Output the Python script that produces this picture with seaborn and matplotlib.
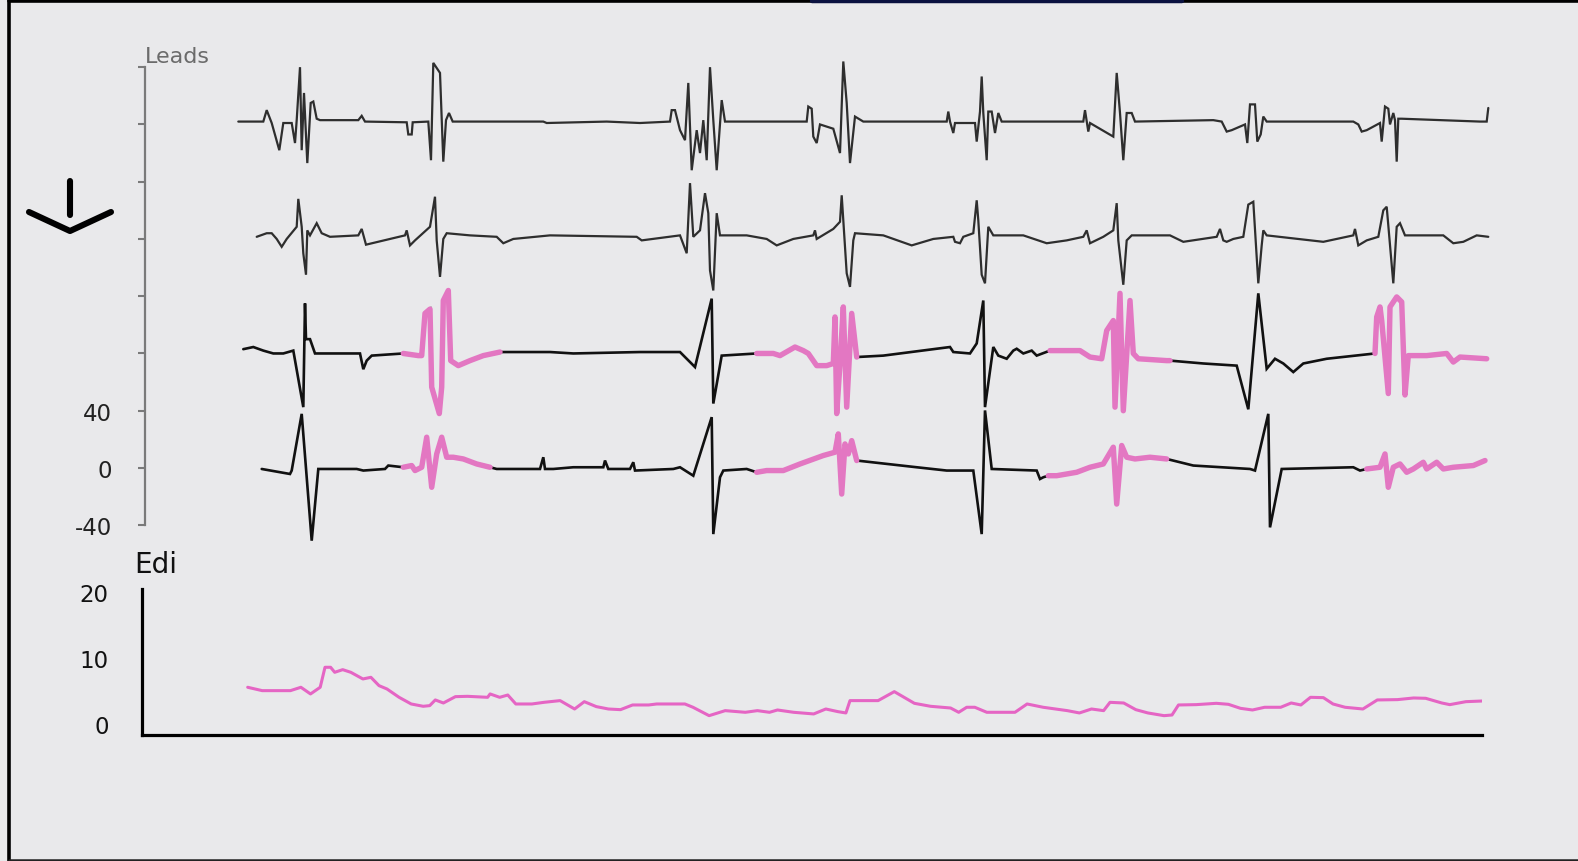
import numpy as np
import pandas as pd
import matplotlib
matplotlib.use("Agg")
import matplotlib.pyplot as plt
import seaborn as sns
from matplotlib.lines import Line2D

# ---------------- data (time index, amplitude) ----------------
LEAD1 = [(1.3, 242), (26.3, 242), (29.7, 250), (34.7, 241), (42.3, 222), (46.3, 241), (54.7, 241), (58, 227),
         (59.7, 243), (63, 280), (64.7, 222), (67, 262), (70.3, 213), (73.7, 255), (76.3, 256), (79.7, 244),
         (83, 243), (121.3, 243), (124.7, 246), (128, 242), (169.7, 241.5), (171.3, 233), (174.7, 233),
         (175.7, 241.5), (191.3, 242), (194, 215), (196.3, 283), (203, 276), (206.3, 214), (209, 243),
         (212, 248), (215.7, 242), (306.3, 242), (309.7, 241), (369.7, 242), (403, 241), (433, 242),
         (434.7, 250), (438, 250), (443, 236), (448, 229), (451.3, 269), (454.7, 208), (459.7, 236),
         (463, 220), (466.3, 243), (469.7, 215), (473, 280), (476.3, 243), (479.7, 208), (484.7, 257),
         (488, 242), (569.7, 242), (571.3, 252.5), (574.7, 251), (576.3, 231.5), (579.7, 227), (583, 240),
         (596.3, 237), (603, 220), (606.3, 284), (609.7, 255), (613, 213), (618, 245.5), (626.3, 242),
         (709.7, 242), (711.3, 249), (713, 242), (716.3, 234), (718, 241), (738, 241), (739.7, 228),
         (743, 249), (744.7, 273.5), (746.3, 248), (749.7, 215), (751.3, 249), (754.7, 249), (758, 234),
         (761.3, 248), (764.7, 242), (846.3, 242), (848, 250), (851.3, 235), (853, 241), (876.3, 231.5),
         (879.7, 276), (883, 248), (886.3, 215), (889.7, 248), (894.7, 248), (898, 242), (976.3, 243),
         (984.7, 242), (989.7, 235), (994.7, 236), (1008, 240), (1010.3, 227), (1013, 254), (1018, 254),
         (1020.3, 228), (1023.7, 233), (1026.3, 245.5), (1029.7, 242), (1116.3, 242), (1121.3, 240),
         (1124.7, 235), (1129.7, 236), (1143, 241), (1144.7, 228), (1148, 252.5), (1151.3, 251),
         (1153, 240), (1156.3, 248), (1158, 243), (1159.7, 214), (1161.3, 244), (1164.7, 244),
         (1243, 242), (1249.7, 242), (1251.3, 251.5)]

LEAD2 = [(19.7, 161.5), (29.7, 164), (34.7, 164), (39.7, 160), (44.7, 154.5), (49.7, 160), (59.7, 168.5),
         (61.3, 188), (64.7, 168.5), (66.3, 150), (69, 135), (70.3, 166), (73, 162.5), (79.7, 171),
         (84.7, 164), (93, 161.5), (121.3, 162.5), (124.7, 167), (129, 156), (168, 162.5), (169.7, 166),
         (173, 155.5), (178, 159), (193, 168.5), (198, 189.5), (199.7, 159), (203, 133.5), (206.3, 160),
         (209.7, 164), (233, 162.5), (259.7, 161.5), (266.3, 157), (276.3, 160), (313, 162.5),
         (399.7, 161.5), (404.7, 159), (443, 162.5), (449.7, 150), (453, 199), (456.3, 161.5), (463, 166),
         (468, 192), (471.3, 178), (473, 138), (476.3, 124), (479.7, 178), (483, 162.5), (509.7, 162.5),
         (529.7, 160), (539.7, 155.5), (556.3, 160), (576.3, 162.5), (578, 166), (579.7, 160), (596.3, 167),
         (603, 172), (604.7, 190.5), (606.3, 173), (609.7, 136), (613, 126.5), (616.3, 159), (618, 164),
         (646.3, 162.5), (674.7, 155.5), (696.3, 160), (716.3, 161.5), (718, 158), (723, 157),
         (726.3, 161.5), (736.3, 164), (739.7, 187), (741.3, 173), (744.7, 135), (748, 129), (751.3, 168.5),
         (756.3, 162.5), (786.3, 162.5), (809.7, 157), (829.7, 159), (846.3, 161.5), (849.7, 166),
         (853, 157), (866.3, 161.5), (876.3, 166), (879.7, 185), (881.3, 159), (886.3, 128), (889.7, 159),
         (894.7, 162.5), (933, 162.5), (946.3, 158), (979.7, 161.5), (983, 167), (986.3, 159),
         (989.7, 158), (996.3, 160), (1006.3, 161.5), (1011.3, 184), (1016.3, 186), (1021.3, 129),
         (1024.7, 155.5), (1026.3, 166), (1029.7, 162.5), (1086.3, 158), (1116.3, 162.5), (1118, 167),
         (1121.3, 155.5), (1129.7, 159), (1141.3, 161.5), (1146.3, 180), (1149.7, 182.5), (1156.3, 129),
         (1159.7, 168.5), (1163, 171), (1168, 162.5), (1206.3, 162.5), (1216.3, 157), (1226.3, 158),
         (1239.7, 162.5), (1251.3, 161.5)]

LEAD3 = [(6.3, 83), (16.3, 84.5), (26.3, 82), (36.3, 80), (46.3, 80), (56.3, 82), (66.3, 42.5), (68, 115),
         (69, 90), (73, 90), (78, 80), (123, 80), (126.3, 69), (129.7, 75), (134.7, 78.5), (166.3, 80),
         (181.3, 78.5), (184.7, 78.5), (188, 108), (193, 111), (194.7, 56.5), (202.3, 38), (204.7, 56.5),
         (206.3, 117), (211.3, 124), (213.7, 75), (221.3, 71.5), (233, 75), (246.3, 78.5), (263, 81),
         (313, 81), (336.3, 80), (403, 81), (443, 81), (458, 70.5), (474.7, 118.3), (476.3, 45),
         (484.7, 78.5), (519.7, 80), (536.3, 80), (543, 78.5), (558, 84.5), (566.3, 82), (571.3, 80),
         (579.7, 71.5), (589.7, 71.5), (596.3, 73), (598, 105.5), (599.7, 38), (603, 73), (606.3, 112.5),
         (609.7, 42.5), (614.7, 108), (619.7, 77.5), (646.3, 78.5), (713, 84.5), (716.3, 81), (733, 80),
         (739.7, 87), (746.3, 117), (748, 42.5), (756.3, 84.5), (761.3, 78.5), (769.7, 76.3), (776.3, 82),
         (779.7, 83.3), (786.3, 80), (794.7, 82), (799.7, 78.5), (813, 82), (843, 82), (853, 77.5),
         (864.7, 76.3), (869.7, 96), (876.3, 103), (878, 42.5), (883, 122), (886.3, 40), (893, 117),
         (896.3, 80), (901.3, 76.3), (929.7, 75), (933, 75), (966.3, 73), (999.7, 71.5), (1011.3, 41),
         (1021.3, 122), (1029.7, 69.3), (1038, 76.3), (1046.3, 73), (1056.3, 67), (1066.3, 73),
         (1089.7, 76.3), (1138, 80), (1139.7, 105.5), (1143, 112.5), (1144.7, 103), (1151.3, 52),
         (1153, 112.5), (1159.7, 119.5), (1164.7, 116), (1168, 51), (1171.3, 78.5), (1189.7, 78.5),
         (1209.7, 80), (1216.3, 74), (1223, 77.5), (1249.7, 76.3)]

LEAD4 = [(24.7, -0.7), (53, -4.2), (54.7, -1.8), (64.7, 37.8), (74.7, -50.8), (81.3, -0.7), (119.7, -0.7),
         (126.3, -1.8), (148, -0.7), (151.3, 1.7), (166.3, 0.5), (174.7, 1.7), (178, -1.8), (184.7, 0.5),
         (189.7, 21.5), (194.7, -13.5), (199.7, 9.8), (204.7, 21.5), (209.7, 7.5), (216.3, 7.5),
         (226.3, 6.3), (239.7, 2.8), (253, 0.5), (259.7, -0.7), (303, -0.7), (306.3, 7.5), (308, -0.7),
         (316.3, -0.7), (336.3, 0.5), (366.3, 0.5), (368, 5.2), (371.3, -0.7), (393, -0.7), (396.3, 4),
         (398, -1.8), (436.3, -0.7), (443, 0.5), (456.3, -5.4), (474.7, 35.5), (476.3, -46.2),
         (483, -6.5), (486.3, -1.8), (509.7, -0.7), (519.7, -3), (529.7, -1.8), (546.3, -1.8), (563, 2.8),
         (586.3, 8.7), (598, 11), (601.3, 23.8), (604.7, -18.2), (608, 16.8), (611.3, 9.8), (614.7, 19.1),
         (619.7, 5.2), (679.7, 0.5), (709.7, -1.8), (736.3, -1.8), (744.7, -46.2), (748, 40.2),
         (754.7, -0.7), (799.7, -1.8), (803, -7.7), (806.3, -6.5), (811.3, -5.4), (819.7, -5.4),
         (839.7, -3), (853, 0.5), (866.3, 2.8), (876.3, 14.5), (879.7, -25.2), (884.7, 15.7), (889.7, 7.5),
         (898, 6.3), (913, 7.5), (929.7, 6.3), (956.3, 1.7), (1013, -0.7), (1018, -1.8), (1031.3, 37.8),
         (1033, -41.5), (1044.7, -0.7), (1116.3, 0.5), (1123, -1.8), (1129.7, -0.7), (1143, 0.5),
         (1148, 9.8), (1151.3, -13.5), (1156.3, 0.5), (1163, 2.8), (1169.7, -3), (1176.3, -0.7),
         (1186.3, 4), (1189.7, -0.7), (1199.7, 4), (1206.3, -0.7), (1216.3, 0.5), (1236.3, 1.7),
         (1248, 5.2)]

EDI = [(10.7, 5.56), (25.2, 5.05), (53.4, 5.05), (63.9, 5.56), (73.5, 4.55), (83.2, 5.56), (88, 8.59),
       (93.6, 8.59), (97.7, 7.83), (105.7, 8.23), (113.8, 7.83), (125.9, 6.82), (133.9, 7.07), (142, 5.81),
       (150, 5.30), (162.1, 4.04), (174.2, 3.03), (186.2, 2.68), (192.7, 2.78), (198.3, 3.64), (206.4, 3.18),
       (218.4, 4.14), (230.5, 4.19), (250.6, 4.04), (253.1, 4.55), (262.7, 4.04), (270.8, 4.39),
       (278.8, 3.03), (294.9, 3.03), (307, 3.28), (323.1, 3.54), (337.6, 2.27), (347.3, 3.38),
       (359.3, 2.63), (371.4, 2.27), (383.5, 2.17), (395.6, 2.88), (411.7, 2.88), (419.7, 3.03),
       (447.9, 3.03), (456, 2.53), (472.1, 1.26), (488.2, 2.02), (508.3, 1.77), (520.4, 2.02),
       (532.5, 1.77), (540.5, 2.12), (556.6, 1.77), (576.7, 1.52), (588.8, 2.27), (600.9, 1.87),
       (608.9, 1.67), (613, 3.54), (641.1, 3.54), (657.3, 4.90), (677.4, 3.13), (693.5, 2.68),
       (713.6, 2.42), (721.7, 1.77), (729.7, 2.53), (737.8, 2.53), (749.8, 1.77), (778, 1.77),
       (790.1, 3.03), (806.2, 2.53), (830.4, 2.02), (842.4, 1.67), (854.5, 2.27), (866.6, 2.02),
       (873, 3.28), (886.7, 3.18), (898.8, 2.17), (910.9, 1.67), (927, 1.26), (935, 1.36), (941.5, 2.88),
       (959.2, 2.93), (979.3, 3.13), (991.4, 2.98), (1003.5, 2.37), (1015.5, 2.12), (1027.6, 2.53),
       (1043.7, 2.53), (1054.2, 3.18), (1063.9, 2.88), (1073.5, 4.04), (1086.4, 3.99), (1096, 3.03),
       (1108.1, 2.53), (1125.9, 2.27), (1140.3, 3.64), (1160.5, 3.69), (1176.6, 3.94), (1188.7, 3.89),
       (1204.8, 3.18), (1212.8, 2.93), (1228.9, 3.38), (1245, 3.48)]

# highlighted (pink) windows on leads 3 and 4, in time units
PINK_LEAD3 = [(166, 263), (519, 620), (812, 934), (1138, 1252)]
PINK_LEAD4 = [(166, 254), (519, 620), (811, 930), (1129, 1250)]

LEAD_TICKS = [-40, 0, 40, 80, 120, 160, 200, 240, 280]
LEAD_TICK_LABELS = ["-40", "0", "40", "", "", "", "", "", ""]
EDI_TICKS = [0, 10, 20]
EDI_TICK_LABELS = ["0", "10", "20"]

# ---------------- style ----------------
W, H = 1578, 862
BG = "#e9e9eb"
PINK = "#e377c2"
EDI_PINK = "#e565c4"

sns.set_theme(style="white")
plt.rcParams["font.family"] = ["DejaVu Sans"]

fig = plt.figure(figsize=(W / 100, H / 100), dpi=100, facecolor=BG)


def fx(px):
    return px / W


def fy(py):
    return 1 - py / H


# ---------------- leads panel ----------------
ax = fig.add_axes([fx(145), fy(555), (1500 - 145) / W, (555 - 47) / H])
ax.set_facecolor("none")

leads = [("Lead 1", LEAD1, "#2e2e2e", 1.6, []),
         ("Lead 2", LEAD2, "#2e2e2e", 1.6, []),
         ("Lead 3", LEAD3, "#111111", 1.9, PINK_LEAD3),
         ("Lead 4", LEAD4, "#111111", 1.9, PINK_LEAD4)]

for name, pts, col, lw, windows in leads:
    df = pd.DataFrame(pts, columns=["t", "v"])
    sns.lineplot(data=df, x="t", y="v", sort=False, estimator=None, color=col,
                 linewidth=lw, ax=ax, solid_joinstyle="miter")
    for a, b in windows:
        seg = df[(df["t"] >= a) & (df["t"] <= b)]
        sns.lineplot(data=seg, x="t", y="v", sort=False, estimator=None, color=PINK,
                     linewidth=3.9, ax=ax, solid_joinstyle="round", solid_capstyle="round")

ax.set_xlim(-92, 1263)
ax.set_ylim(-60.1, 294.8)
ax.set_xlabel("")
ax.set_ylabel("")
ax.set_xticks([])
ax.set_yticks(LEAD_TICKS)
ax.set_yticklabels(LEAD_TICK_LABELS)
for s in ["top", "right", "bottom"]:
    ax.spines[s].set_visible(False)
ax.spines["left"].set_bounds(-40, 280)
ax.spines["left"].set_color("#7a7a7a")
ax.spines["left"].set_linewidth(1.6)
ax.tick_params(axis="y", left=True, length=5, width=1.5, color="#7a7a7a", pad=19,
               labelsize=16.5, labelcolor="#222222")

# ---------------- Edi panel ----------------
bx = fig.add_axes([fx(142), fy(736), 1340 / W, 146 / H])
bx.set_facecolor("none")
edf = pd.DataFrame(EDI, columns=["t", "v"])
sns.lineplot(data=edf, x="t", y="v", sort=False, estimator=None, color=EDI_PINK,
             linewidth=2.2, ax=bx)
bx.set_xlim(-95, 1245)
bx.set_ylim(-1.67, 20.45)
bx.set_xlabel("")
bx.set_ylabel("")
bx.set_xticks([])
bx.set_yticks(EDI_TICKS)
bx.set_yticklabels(EDI_TICK_LABELS)
for s in ["top", "right"]:
    bx.spines[s].set_visible(False)
for s in ["left", "bottom"]:
    bx.spines[s].set_color("black")
    bx.spines[s].set_linewidth(2.3)
bx.tick_params(axis="y", length=0, pad=24, labelsize=16.5, labelcolor="#111111")

# ---------------- labels ----------------
fig.text(fx(145), fy(63), "Leads", fontsize=16, color="#6b6b6b", ha="left", va="baseline")
fig.text(fx(134), fy(573), "Edi", fontsize=20, color="#111111", ha="left", va="baseline")

# ---------------- arrow symbol ----------------
arrow_kw = dict(transform=fig.transFigure, color="black", lw=4.4,
                solid_capstyle="round", solid_joinstyle="round")
fig.add_artist(Line2D([fx(70), fx(70)], [fy(182), fy(216)], **arrow_kw))
fig.add_artist(Line2D([fx(29), fx(70), fx(111)], [fy(213), fy(232), fy(213)], **arrow_kw))

# ---------------- frame ----------------
frame_kw = dict(transform=fig.transFigure, color="black", lw=2.6)
fig.add_artist(Line2D([fx(9), fx(9)], [fy(0), fy(862)], **frame_kw))
fig.add_artist(Line2D([fx(9), fx(1578)], [fy(1.5), fy(1.5)], **frame_kw))
fig.add_artist(Line2D([fx(9), fx(1578)], [fy(860.5), fy(860.5)], transform=fig.transFigure,
                      color="#222222", lw=1.8))
fig.add_artist(Line2D([fx(812), fx(1182)], [fy(1.5), fy(1.5)], transform=fig.transFigure,
                      color="#0b1240", lw=3.2))

fig.savefig("out.png", dpi=100, facecolor=BG)
